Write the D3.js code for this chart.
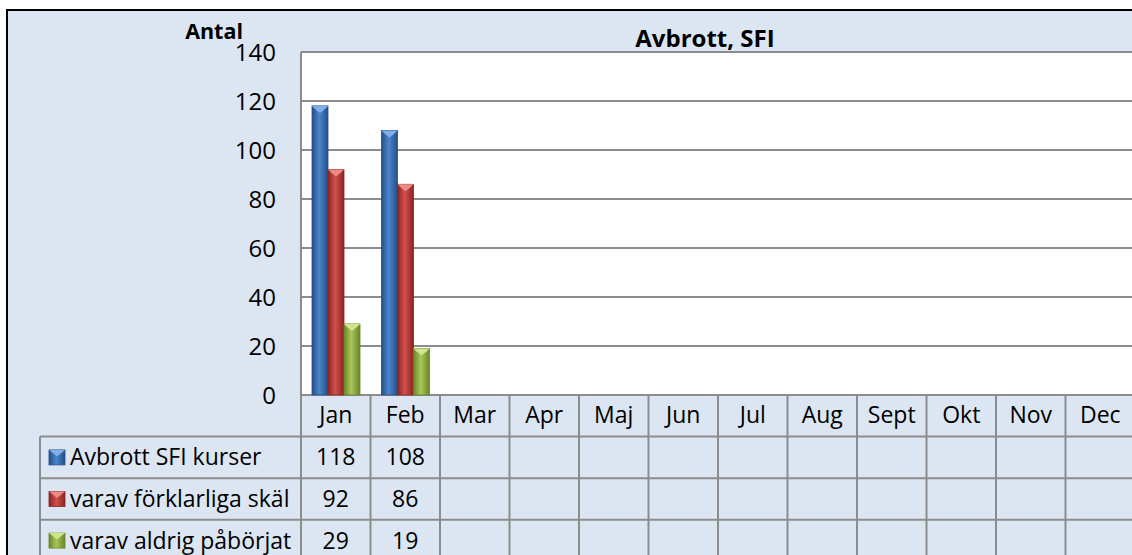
<!DOCTYPE html>
<html>
<head>
<meta charset="utf-8">
<script src="https://cdn.jsdelivr.net/npm/d3@7"></script>
<style>
  html, body { margin: 0; padding: 0; background: #fff; }
  svg { display: block; }
  text { font-family: "Open Sans", sans-serif; fill: #000; }
</style>
</head>
<body>
<svg id="chart" width="1132" height="555"></svg>
<script>
// Data
const months = ["Jan", "Feb", "Mar", "Apr", "Maj", "Jun", "Jul", "Aug", "Sept", "Okt", "Nov", "Dec"];
const seriesNames = ["Avbrott SFI kurser", "varav förklarliga skäl", "varav aldrig påbörjat"];
const avbrott = [118, 108, null, null, null, null, null, null, null, null, null, null];
const forklarliga = [92, 86, null, null, null, null, null, null, null, null, null, null];
const aldrig = [29, 19, null, null, null, null, null, null, null, null, null, null];
const yTicks = [0, 20, 40, 60, 80, 100, 120, 140];

const seriesValues = [avbrott, forklarliga, aldrig];
// edge / mid / cap colours for the "3D" columns
const palette = [
    { edge: "#244f8a", mid: "#4b86c9", cap: "#7fb0e6" },
    { edge: "#8a2422", mid: "#d2504b", cap: "#ec8a86" },
    { edge: "#6a8526", mid: "#a9c75b", cap: "#cfe48c" }
];

const svg = d3.select("#chart");
const W = 1132, H = 555;
const plotLeft = 301, plotRight = 1135, plotTop = 52, plotBottom = 395;
const rowH = 41.6, labelLeft = 40;
const gridColor = "#8c8c8c";
const fs = 23;

// chart background + frame
svg.append("rect").attr("x", 7).attr("y", 10).attr("width", W).attr("height", H)
    .attr("fill", "#dce6f2").attr("stroke", "#000").attr("stroke-width", 2);

const x = d3.scaleBand().domain(months).range([plotLeft, plotRight]).padding(0);
const xs = d3.scaleBand().domain(d3.range(3)).range([11, 59]).padding(0);
const y = d3.scaleLinear().domain([0, 140]).range([plotBottom, plotTop]);

// plot area
svg.append("rect").attr("x", plotLeft).attr("y", plotTop)
    .attr("width", plotRight - plotLeft).attr("height", plotBottom - plotTop)
    .attr("fill", "#fff");

// gridlines
svg.append("g").selectAll("line").data(yTicks).join("line")
    .attr("x1", plotLeft).attr("x2", plotRight)
    .attr("y1", d => y(d)).attr("y2", d => y(d))
    .attr("stroke", gridColor).attr("stroke-width", 2);

// y tick labels
svg.append("g").selectAll("text").data(yTicks).join("text")
    .attr("x", 276).attr("y", d => y(d) + 8.5)
    .attr("text-anchor", "end").attr("font-size", 24)
    .text(d => d);

svg.append("text").attr("x", 243).attr("y", 39).attr("text-anchor", "end")
    .attr("font-size", 21.5).attr("font-weight", "bold").text("Antal");

svg.append("text").attr("x", 705).attr("y", 47).attr("text-anchor", "middle")
    .attr("font-size", 24).attr("font-weight", "bold").text("Avbrott, SFI");

// gradients
const defs = svg.append("defs");
palette.forEach((p, i) => {
    const g = defs.append("linearGradient").attr("id", "grad" + i)
        .attr("x1", "0%").attr("x2", "100%").attr("y1", "0%").attr("y2", "0%");
    g.append("stop").attr("offset", "0%").attr("stop-color", p.edge);
    g.append("stop").attr("offset", "45%").attr("stop-color", p.mid);
    g.append("stop").attr("offset", "100%").attr("stop-color", p.edge);
});

// bars
const barData = [];
seriesValues.forEach((vals, si) => {
    vals.forEach((v, mi) => {
        if (v != null) barData.push({ s: si, m: months[mi], v });
    });
});

const bars = svg.append("g");
bars.selectAll("rect").data(barData).join("rect")
    .attr("x", d => x(d.m) + xs(d.s))
    .attr("y", d => y(d.v))
    .attr("width", xs.bandwidth())
    .attr("height", d => plotBottom - y(d.v))
    .attr("fill", d => `url(#grad${d.s})`)
    .attr("stroke", d => palette[d.s].edge).attr("stroke-width", 0.8);

// bevelled caps
bars.selectAll("polygon").data(barData).join("polygon")
    .attr("points", d => {
        const x0 = x(d.m) + xs(d.s), w = xs.bandwidth(), y0 = y(d.v);
        return [[x0, y0], [x0 + w, y0], [x0 + w - 3, y0 + 3], [x0 + w / 2, y0 + 7], [x0 + 3, y0 + 3]]
            .map(p => p.join(",")).join(" ");
    })
    .attr("fill", d => palette[d.s].cap);

// data table
const table = svg.append("g");
const tableBottom = H + 5;
// horizontal lines
const hLines = [plotBottom + rowH, plotBottom + 2 * rowH, plotBottom + 3 * rowH];
table.selectAll("line.h").data(hLines).join("line").attr("class", "h")
    .attr("x1", labelLeft).attr("x2", plotRight)
    .attr("y1", d => d).attr("y2", d => d)
    .attr("stroke", gridColor).attr("stroke-width", 2);
// vertical lines
table.selectAll("line.v").data(months).join("line").attr("class", "v")
    .attr("x1", d => x(d)).attr("x2", d => x(d))
    .attr("y1", (d, i) => i === 0 ? plotTop : plotBottom).attr("y2", tableBottom)
    .attr("stroke", gridColor).attr("stroke-width", 2);
table.append("line")
    .attr("x1", labelLeft).attr("x2", labelLeft)
    .attr("y1", plotBottom + rowH).attr("y2", tableBottom)
    .attr("stroke", gridColor).attr("stroke-width", 2);

// month headers
table.selectAll("text.month").data(months).join("text").attr("class", "month")
    .attr("x", d => x(d) + x.bandwidth() / 2).attr("y", plotBottom + 28)
    .attr("text-anchor", "middle").attr("font-size", fs)
    .text(d => d);

// row labels with legend keys
seriesNames.forEach((name, si) => {
    const cy = plotBottom + rowH * (si + 1) + rowH / 2;
    const p = palette[si];
    table.append("rect").attr("x", 49).attr("y", cy - 7.5).attr("width", 16).attr("height", 15)
        .attr("fill", `url(#grad${si})`).attr("stroke", p.edge).attr("stroke-width", 0.8);
    table.append("polygon")
        .attr("points", `49,${cy - 7.5} 65,${cy - 7.5} 57,${cy - 1}`)
        .attr("fill", p.cap);
    table.append("text").attr("x", 70).attr("y", cy + 8)
        .attr("font-size", fs).text(name);
    table.selectAll(null).data(seriesValues[si].map((v, mi) => ({ v, m: months[mi] })).filter(d => d.v != null))
        .join("text")
        .attr("x", d => x(d.m) + x.bandwidth() / 2).attr("y", cy + 8)
        .attr("text-anchor", "middle").attr("font-size", fs)
        .text(d => d.v);
});
</script>
</body>
</html>
